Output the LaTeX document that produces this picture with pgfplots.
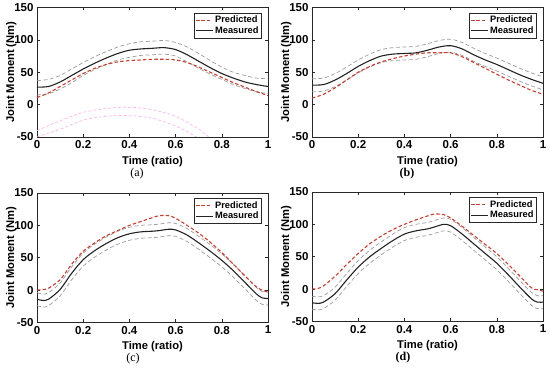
\documentclass[border=0pt]{standalone}
\usepackage{fontspec}
\setmainfont{Liberation Sans}
\newfontfamily\capfont{Liberation Serif}
\usepackage{pgfplots}
\usepackage{pgfplotstable}
\pgfplotsset{compat=1.18}
\definecolor{predc}{RGB}{195,65,50}
\definecolor{measc}{RGB}{35,35,35}
\definecolor{sdc}{RGB}{155,155,155}
\definecolor{pinkc}{RGB}{255,180,232}
\definecolor{axc}{RGB}{40,40,40}

\pgfplotstableread{
x meas up lo pred
0 27 37 15 11
0.05 28 39 17 18
0.1 35 45 24 28
0.15 45 55 34 38
0.2 55 65 45 48
0.25 64 74 54 56
0.3 72 82 62 62
0.35 79 89 69 66
0.4 84 94 73 68
0.45 86 97 76 69
0.5 87 98 77 70
0.55 88 99 78 70
0.6 85 96 75 69
0.65 77 89 66 65
0.7 67 79 56 58
0.75 57 68 47 50
0.8 48 58 39 42
0.85 41 50 31 34
0.9 35 45 25 27
0.95 31 41 20 20
1 28 40 17 14
}\tabA

\pgfplotstableread{
x meas up lo pred
0 30 40 20 10
0.05 31 41 21 16
0.1 38 48 28 26
0.15 48 58 38 38
0.2 59 69 49 50
0.25 68 78 58 59
0.3 75 85 65 66
0.35 78 88 68 71
0.4 79 89 69 75
0.45 80 90 70 78
0.5 84 94 74 80
0.55 89 99 79 80
0.6 91 101 81 80
0.65 86 96 76 74
0.7 77 87 67 65
0.75 69 79 59 56
0.8 62 72 52 47
0.85 54 64 44 38
0.9 46 56 36 30
0.95 39 49 29 22
1 33 43 23 16
}\tabB

\pgfplotstableread{
x meas up lo pred
0 -14 -4 -24 0
0.025 -16 -6 -26 1
0.05 -14 -4 -24 3
0.1 1 11 -9 16
0.15 26 36 16 40
0.2 47 57 37 60
0.25 61 71 51 73
0.3 72 82 62 84
0.35 81 91 71 92
0.4 87 97 77 100
0.45 90 100 80 106
0.5 91 101 81 112
0.53 92 102 82 115
0.57 94 104 84 115
0.6 93 103 83 111
0.65 85 95 75 100
0.7 73 83 63 88
0.75 60 70 50 74
0.8 46 56 36 58
0.85 30 40 20 40
0.9 12 22 2 22
0.95 -6 4 -16 5
0.975 -12 -2 -22 0
1 -13 -3 -23 -3
}\tabC

\pgfplotstableread{
x meas up lo pred
0 -21 -11 -31 0
0.025 -22 -12 -32 1
0.05 -20 -10 -30 5
0.1 -7 3 -17 20
0.15 14 24 4 38
0.2 34 44 24 55
0.25 50 60 40 70
0.3 63 73 53 82
0.35 75 85 65 92
0.4 85 95 75 100
0.45 90 100 80 107
0.5 93 103 83 113
0.53 96 106 86 116
0.57 100 110 90 115
0.6 98 108 88 110
0.65 85 95 75 97
0.7 70 80 60 83
0.75 55 65 45 69
0.8 40 50 30 55
0.85 22 32 12 38
0.9 3 13 -7 20
0.95 -15 -5 -25 2
0.975 -20 -10 -30 -1
1 -20 -10 -30 -3
}\tabD

\pgfplotsset{panel/.style={
  scale only axis, width=231pt, height=129.5pt, anchor=south west,
  xmin=0,xmax=1,ymin=-50,ymax=150,
  xtick={0,0.2,0.4,0.6,0.8,1}, ytick={-50,0,50,100,150},
  tick align=inside, major tick length=3pt,
  axis line style={axc, line width=0.5pt},
  every tick/.style={axc, line width=0.5pt},
  /pgf/number format/assume math mode=true,
  tick label style={font=\fontsize{11.5}{13}\selectfont\bfseries},
  xlabel={Time (ratio)}, ylabel={Joint Moment (Nm)},
  label style={font=\fontsize{11.2}{13}\selectfont\bfseries, inner sep=0pt},
  xlabel style={at={(axis description cs:0.5,-0.19)}, anchor=center},
  ylabel style={at={(axis description cs:-0.112,0.5)}, anchor=center},
  legend style={at={(rel axis cs:0.974,0.961)}, anchor=north east,
    font=\fontsize{9.3}{11}\selectfont\bfseries, draw=axc, line width=0.5pt,
    inner sep=1.2pt, row sep=-1.5pt},
  legend cell align=left,
}}
\tikzset{
  sdline/.style={sdc, line width=0.7pt, dash pattern=on 4pt off 2.5pt, smooth},
  predline/.style={predc, line width=1.1pt, dash pattern=on 3.5pt off 2.2pt, smooth},
  measline/.style={measc, line width=1.1pt, smooth},
  capnode/.style={inner sep=0pt, font=\capfont\fontsize{12}{14}\selectfont},
  capnodeb/.style={inner sep=0pt, font=\capfont\bfseries\fontsize{12}{14}\selectfont},
}

\begin{document}
\begin{tikzpicture}
\useasboundingbox (0pt,0pt) rectangle (550pt,375pt);

% (a)
\begin{axis}[panel, at={(37pt,238pt)}]
\addplot[forget plot, pinkc, line width=0.7pt, dash pattern=on 3pt off 2pt, smooth] coordinates {(0,-40) (0.1,-25) (0.2,-12) (0.3,-6) (0.4,-4) (0.5,-8) (0.6,-18) (0.7,-38) (0.75,-52)};
\addplot[forget plot, pinkc, line width=0.7pt, dash pattern=on 3pt off 2pt, smooth] coordinates {(0,-50) (0.1,-38) (0.2,-24) (0.3,-18) (0.4,-17) (0.5,-21) (0.6,-33) (0.65,-42) (0.7,-52)};
\addplot[forget plot, sdline] table[x=x,y=up] {\tabA};
\addplot[forget plot, sdline] table[x=x,y=lo] {\tabA};
\addplot[predline] table[x=x,y=pred] {\tabA};
\addlegendentry{Predicted}
\addplot[measline] table[x=x,y=meas] {\tabA};
\addlegendentry{Measured}
\end{axis}

% (b)
\begin{axis}[panel, at={(312pt,238pt)}]
\addplot[forget plot, sdline] table[x=x,y=up] {\tabB};
\addplot[forget plot, sdline] table[x=x,y=lo] {\tabB};
\addplot[predline] table[x=x,y=pred] {\tabB};
\addlegendentry{Predicted}
\addplot[measline] table[x=x,y=meas] {\tabB};
\addlegendentry{Measured}
\end{axis}

% (c)
\begin{axis}[panel, at={(37pt,52.5pt)}]
\addplot[forget plot, sdline] table[x=x,y=up] {\tabC};
\addplot[forget plot, sdline] table[x=x,y=lo] {\tabC};
\addplot[predline] table[x=x,y=pred] {\tabC};
\addlegendentry{Predicted}
\addplot[measline] table[x=x,y=meas] {\tabC};
\addlegendentry{Measured}
\end{axis}

% (d)
\begin{axis}[panel, at={(312pt,53.5pt)}]
\addplot[forget plot, sdline] table[x=x,y=up] {\tabD};
\addplot[forget plot, sdline] table[x=x,y=lo] {\tabD};
\addplot[predline] table[x=x,y=pred] {\tabD};
\addlegendentry{Predicted}
\addplot[measline] table[x=x,y=meas] {\tabD};
\addlegendentry{Measured}
\end{axis}

\node[capnode] at (137pt,201pt) {(a)};
\node[capnodeb] at (407pt,201pt) {(b)};
\node[capnode] at (133pt,16pt) {(c)};
\node[capnodeb] at (403pt,17pt) {(d)};
\end{tikzpicture}
\end{document}
